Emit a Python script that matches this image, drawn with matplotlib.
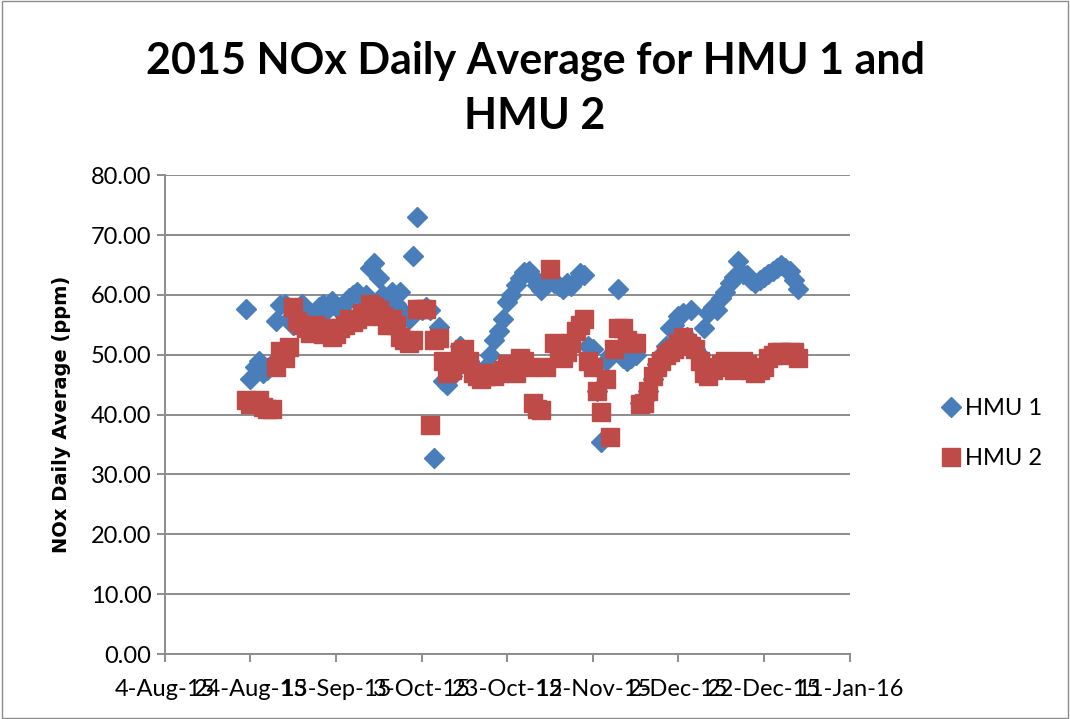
import numpy as np
import pandas as pd
import matplotlib
matplotlib.use("Agg")
import matplotlib.pyplot as plt
import matplotlib.dates as mdates
from matplotlib.patches import Rectangle

# daily values, 23-Aug-15 .. 30-Dec-15
dates = pd.date_range("2015-08-23", "2015-12-30", freq="D")

hmu1 = [
    57.6, 46.0, 48.0, 49.0, 47.0, 47.5, 48.5, 55.6, 58.3,                    # Aug 23-31
    58.5, 56.0, 55.0, 57.5, 58.5, 56.5, 55.5, 57.0, 58.0, 58.5,              # Sep 1-10
    57.5, 59.0, 58.0, 57.5, 58.5, 59.5, 60.0, 60.5, 59.5, 60.0,              # Sep 11-20
    64.5, 65.3, 62.8, 60.0, 59.0, 60.5, 58.5, 60.5, 57.0, 56.0,              # Sep 21-30
    66.5, 73.0, 57.5, 58.0, 57.5, 32.7, 54.7, 45.6, 45.0, 46.5,              # Oct 1-10
    48.0, 51.5, 50.0, 49.0, 48.0, 47.5, 47.0, 48.0, 50.0, 52.4,              # Oct 11-20
    54.0, 56.0, 58.8, 60.0, 61.6, 62.8, 63.8, 64.0, 63.0, 61.6, 60.8,        # Oct 21-31
    61.6, 62.5, 62.0, 61.5, 61.0, 62.0, 61.5, 62.5, 63.6, 63.3,              # Nov 1-10
    51.5, 51.0, 44.0, 35.5, 49.0, 50.0, 50.5, 61.0, 49.5, 49.0,              # Nov 11-20
    49.5, 50.0, 42.0, 42.5, 44.0, 46.0, 48.5, 50.0, 51.5, 54.5,              # Nov 21-30
    55.0, 56.5, 57.0, 53.0, 57.4, 51.0, 50.0, 54.4, 57.0, 58.0,              # Dec 1-10
    57.5, 59.5, 60.5, 62.0, 63.0, 65.6, 63.5, 63.3, 62.5, 62.0,              # Dec 11-20
    62.4, 63.0, 63.5, 64.0, 64.5, 65.0, 64.5, 64.0, 62.4, 61.0,              # Dec 21-30
]

hmu2 = [
    42.4, 41.7, 42.3, 42.4, 41.2, 40.9, 41.0, 48.0, 50.7,
    49.4, 51.3, 58.0, 55.7, 55.0, 54.5, 53.6, 55.0, 54.0, 53.5,
    54.5, 53.0, 53.5, 54.5, 55.0, 56.0, 55.5, 56.0, 57.0, 56.5,
    58.5, 58.0, 57.5, 56.5, 55.0, 56.0, 55.0, 53.0, 52.5, 52.0,
    52.5, 57.6, 57.6, 57.6, 38.2, 52.5, 52.8, 49.0, 47.0, 47.5,
    48.5, 50.5, 51.0, 49.0, 47.0, 46.5, 46.0, 46.5, 47.0, 46.5,
    47.0, 47.5, 48.5, 48.0, 47.0, 49.5, 49.0, 48.0, 42.0, 41.0, 40.8,
    48.0, 64.3, 52.0, 51.0, 49.5, 50.5, 52.0, 54.0, 55.0, 56.0,
    49.0, 48.0, 44.0, 40.5, 46.0, 36.2, 51.0, 54.5, 54.5, 52.5,
    52.0, 52.0, 41.8, 42.0, 44.0, 46.5, 48.0, 49.0, 50.0, 50.5,
    51.0, 52.0, 53.0, 52.0, 51.5, 51.0, 49.0, 47.0, 46.5, 47.5,
    48.0, 48.5, 49.0, 48.5, 47.5, 48.0, 49.0, 48.5, 47.5, 47.0,
    47.5, 48.0, 49.5, 50.0, 50.5, 50.5, 50.0, 50.5, 50.5, 49.5,
]

x_ticks = pd.date_range("2015-08-04", "2016-01-11", freq="20D")
y_ticks = np.arange(0, 81, 10)

font = ["Lato", "DejaVu Sans"]

fig = plt.figure(figsize=(10.70, 7.19), dpi=100)
ax = fig.add_axes([0.154, 0.0904, 0.640, 0.666])

ax.plot(dates, hmu1, linestyle="none", marker="D", markersize=10.5,
        color="#4A7EBB", label="HMU 1")
ax.plot(dates, hmu2, linestyle="none", marker="s", markersize=13.5,
        color="#BE4B48", label="HMU 2")

ax.set_xlim(x_ticks[0], x_ticks[-1])
ax.set_ylim(0, 80)
ax.set_xticks(x_ticks)
ax.xaxis.set_major_formatter(mdates.DateFormatter("%-d-%b-%y"))
ax.set_yticks(y_ticks)
ax.set_yticklabels(["%.2f" % v for v in y_ticks])

ax.grid(True, axis="y", color="#8C8C8C", linewidth=1.4)
ax.set_axisbelow(True)
for s in ("top", "right"):
    ax.spines[s].set_visible(False)
for s in ("left", "bottom"):
    ax.spines[s].set_color("#8C8C8C")
    ax.spines[s].set_linewidth(1.4)
ax.tick_params(axis="both", colors="#8C8C8C", width=1.4, length=6,
               labelcolor="black", labelsize=17)
for lbl in ax.get_xticklabels() + ax.get_yticklabels():
    lbl.set_family(font)
ax.tick_params(axis="x", pad=12)

ax.set_ylabel("NOx Daily Average (ppm)", fontsize=14, fontweight="bold",
              family=["DejaVu Sans"], labelpad=14)

fig.text(0.5, 0.877, "2015 NOx Daily Average for HMU 1 and\nHMU 2",
         ha="center", va="center", fontsize=31, fontweight="bold",
         family=font, linespacing=1.45)

leg = ax.legend(loc="center left", bbox_to_anchor=(1.1, 0.46), frameon=False,
                prop={"family": font, "size": 17}, handletextpad=0.1,
                labelspacing=1.25, handlelength=1.0)

fig.patches.append(Rectangle((0.002, 0.002), 0.996, 0.996, transform=fig.transFigure,
                             fill=False, edgecolor="#8C8C8C", linewidth=1.0))

fig.savefig("out.png", dpi=100)
